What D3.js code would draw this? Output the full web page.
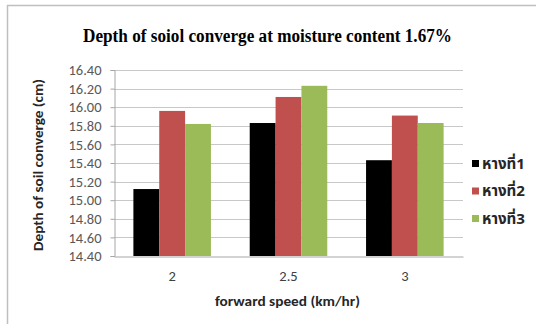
<!DOCTYPE html>
<html>
<head>
<meta charset="utf-8">
<script src="https://cdn.jsdelivr.net/npm/d3@7"></script>
<style>
  html, body { margin: 0; padding: 0; background: #ffffff; }
  svg { display: block; }
</style>
</head>
<body>
<svg id="chart" width="536" height="324"></svg>
<script>
// Forward speed categories (km/hr)
const categories = ["2", "2.5", "3"];
// Series names (tail positions)
const seriesNames = ["หางที่1", "หางที่2", "หางที่3"];
// Depth of soil converge (cm) per series, one value per category
const tail1 = [15.12, 15.83, 15.43];
const tail2 = [15.96, 16.11, 15.91];
const tail3 = [15.82, 16.23, 15.83];
const seriesValues = [tail1, tail2, tail3];
// Y-axis tick values
const yTicks = [14.40, 14.60, 14.80, 15.00, 15.20, 15.40, 15.60, 15.80, 16.00, 16.20, 16.40];
const seriesColors = ["#000000", "#c0504d", "#9bbb59"];

const svg = d3.select("#chart");
const W = 536, H = 324;
const plot = { left: 114, right: 463, top: 70, bottom: 256 };

const tickFont = "Carlito, Lato, 'Noto Sans', sans-serif";
const thaiFont = "Tahoma, 'Noto Sans Thai', 'Noto Sans', 'DejaVu Sans', sans-serif";

// Chart frame
svg.append("path")
  .attr("d", `M7.5,${H} L7.5,5.5 L${W},5.5`)
  .attr("fill", "none")
  .attr("stroke", "#bfbfbf")
  .attr("stroke-width", 1.5);

// Scales
const x0 = d3.scaleBand().domain(categories).range([plot.left, plot.right]).paddingInner(0.0).paddingOuter(0);
const groupWidth = x0.bandwidth() * 3 / 4.5;
const x1 = d3.scaleBand().domain(d3.range(seriesNames.length)).range([0, groupWidth]);
const y = d3.scaleLinear().domain([14.40, 16.40]).range([plot.bottom, plot.top]);

// Gridlines
svg.append("g")
  .selectAll("line")
  .data(yTicks.slice(1))
  .join("line")
  .attr("x1", plot.left)
  .attr("x2", plot.right)
  .attr("y1", d => Math.round(y(d)) + 0.5)
  .attr("y2", d => Math.round(y(d)) + 0.5)
  .attr("stroke", "#c8c8c8")
  .attr("stroke-width", 1);

// Bars
const groups = svg.append("g")
  .selectAll("g")
  .data(categories)
  .join("g")
  .attr("transform", d => `translate(${x0(d) + (x0.bandwidth() - groupWidth) / 2},0)`);

groups.selectAll("rect")
  .data((c, i) => seriesValues.map((vals, s) => ({ s, v: vals[i] })))
  .join("rect")
  .attr("x", d => x1(d.s))
  .attr("width", x1.bandwidth())
  .attr("y", d => y(d.v))
  .attr("height", d => y(14.40) - y(d.v))
  .attr("fill", d => seriesColors[d.s]);

// Y axis
const yAxis = d3.axisLeft(y)
  .tickValues(yTicks)
  .tickFormat(d3.format(".2f"))
  .tickSize(4)
  .tickPadding(9);
const yg = svg.append("g")
  .attr("transform", `translate(${plot.left + 0.5},0)`)
  .call(yAxis);
yg.select(".domain").attr("stroke", "#a6a6a6");
yg.selectAll(".tick line").attr("stroke", "#a6a6a6");
yg.selectAll(".tick text")
  .attr("font-family", tickFont)
  .attr("font-size", 14.5)
  .attr("fill", "#595959");

// X axis
const xAxis = d3.axisBottom(x0).tickSize(0).tickPadding(14);
const xg = svg.append("g")
  .attr("transform", `translate(0,${plot.bottom + 0.5})`)
  .call(xAxis);
xg.select(".domain").attr("stroke", "#a6a6a6");
xg.selectAll(".tick text")
  .attr("font-family", tickFont)
  .attr("font-size", 14.5)
  .attr("fill", "#404040");

// Title
svg.append("text")
  .attr("x", 267.5)
  .attr("y", 42)
  .attr("text-anchor", "middle")
  .attr("font-family", "'Liberation Serif', 'Times New Roman', serif")
  .attr("font-weight", "bold")
  .attr("font-size", 18)
  .attr("textLength", 369)
  .attr("lengthAdjust", "spacingAndGlyphs")
  .attr("fill", "#000000")
  .text("Depth of soiol converge at moisture content 1.67%");

// Axis titles
svg.append("text")
  .attr("x", 287.5)
  .attr("y", 306)
  .attr("text-anchor", "middle")
  .attr("font-family", tickFont)
  .attr("font-weight", "bold")
  .attr("font-size", 14)
  .attr("textLength", 145)
  .attr("lengthAdjust", "spacingAndGlyphs")
  .attr("fill", "#262626")
  .text("forward speed (km/hr)");

svg.append("text")
  .attr("transform", `translate(43,${(plot.top + plot.bottom) / 2 + 2}) rotate(-90)`)
  .attr("text-anchor", "middle")
  .attr("font-family", tickFont)
  .attr("font-weight", "bold")
  .attr("font-size", 14)
  .attr("textLength", 172)
  .attr("lengthAdjust", "spacingAndGlyphs")
  .attr("fill", "#262626")
  .text("Depth of soil converge (cm)");

// Legend
const legend = svg.append("g")
  .selectAll("g")
  .data(seriesNames)
  .join("g")
  .attr("transform", (d, i) => `translate(472,${163.5 + i * 27.5})`);
legend.append("rect")
  .attr("x", 0).attr("y", -3.5)
  .attr("width", 7).attr("height", 7)
  .attr("fill", (d, i) => seriesColors[i]);
legend.append("text")
  .attr("x", 10)
  .attr("y", 0)
  .attr("dy", "0.35em")
  .attr("font-family", thaiFont)
  .attr("font-size", 15)
  .attr("font-weight", "bold")
  .attr("textLength", 43)
  .attr("lengthAdjust", "spacingAndGlyphs")
  .attr("fill", "#262626")
  .text(d => d);
</script>
</body>
</html>
